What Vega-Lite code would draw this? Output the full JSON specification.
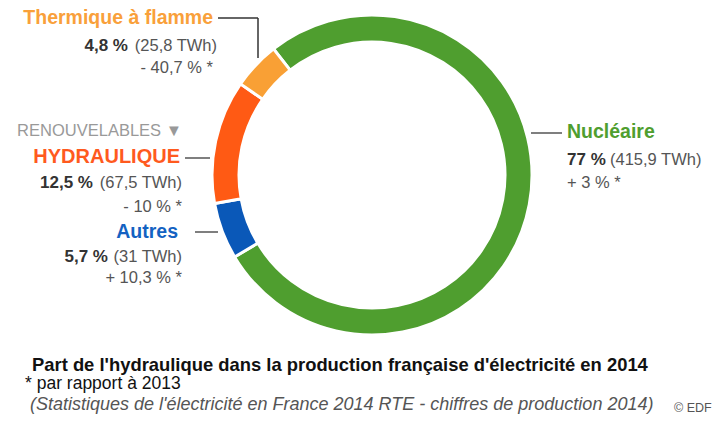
{
  "$schema": "https://vega.github.io/schema/vega-lite/v6.json",
  "width": 320,
  "height": 320,
  "autosize": {"type": "none"},
  "padding": {"left": 212, "top": 15, "right": 189, "bottom": 86},
  "background": "white",
  "config": {"view": {"stroke": null}, "text": {"font": "Liberation Sans"}},
  "datasets": {
    "parts": [
      {"categorie": "Nucléaire", "part": 77, "twh": 415.9, "evolution": 3, "rang": 1},
      {"categorie": "Autres", "part": 5.7, "twh": 31, "evolution": 10.3, "rang": 2},
      {"categorie": "Hydraulique", "part": 12.5, "twh": 67.5, "evolution": -10, "rang": 3},
      {"categorie": "Thermique à flamme", "part": 4.8, "twh": 25.8, "evolution": -40.7, "rang": 4}
    ],
    "one": [{"k": 1}]
  },
  "layer": [
    {
      "data": {"name": "parts"},
      "mark": {"type": "arc", "radius": 160, "radius2": 133, "stroke": "white", "strokeWidth": 3},
      "encoding": {
        "theta": {"field": "part", "type": "quantitative", "stack": true, "scale": {"range": [-0.6632, 5.6200]}},
        "order": {"field": "rang", "type": "quantitative"},
        "color": {"field": "categorie", "type": "nominal", "legend": null,
          "scale": {"domain": ["Nucléaire", "Autres", "Hydraulique", "Thermique à flamme"],
                    "range": ["#4f9e2f", "#0a58b8", "#ff5a14", "#f9a035"]}}
      }
    },
    {"data": {"name": "one"}, "mark": {"type": "rule", "stroke": "#333", "strokeWidth": 1.5}, "encoding": {"x": {"value": 6}, "x2": {"value": 46}, "y": {"value": 3}, "y2": {"value": 3}}},
    {"data": {"name": "one"}, "mark": {"type": "rule", "stroke": "#333", "strokeWidth": 1.5}, "encoding": {"x": {"value": 46}, "x2": {"value": 46}, "y": {"value": 3}, "y2": {"value": 43}}},
    {"data": {"name": "one"}, "mark": {"type": "rule", "stroke": "#555", "strokeWidth": 1.5}, "encoding": {"x": {"value": -27}, "x2": {"value": -2}, "y": {"value": 143}, "y2": {"value": 143}}},
    {"data": {"name": "one"}, "mark": {"type": "rule", "stroke": "#555", "strokeWidth": 1.5}, "encoding": {"x": {"value": -17}, "x2": {"value": 6}, "y": {"value": 217}, "y2": {"value": 217}}},
    {"data": {"name": "one"}, "mark": {"type": "rule", "stroke": "#555", "strokeWidth": 1.5}, "encoding": {"x": {"value": 319}, "x2": {"value": 350}, "y": {"value": 118}, "y2": {"value": 118}}},

    {"data": {"name": "one"}, "mark": {"type": "text", "text": "Thermique à flamme", "x": 1, "y": 9, "align": "right", "baseline": "alphabetic", "fontSize": 19.5, "fontWeight": "bold", "color": "#f9a03a"}},
    {"data": {"name": "one"}, "mark": {"type": "text", "text": "4,8 %", "x": -84, "y": 36, "align": "right", "baseline": "alphabetic", "fontSize": 17, "fontWeight": "bold", "color": "#333"}},
    {"data": {"name": "one"}, "mark": {"type": "text", "text": "(25,8 TWh)", "x": 5, "y": 36, "align": "right", "baseline": "alphabetic", "fontSize": 16.5, "color": "#555"}},
    {"data": {"name": "one"}, "mark": {"type": "text", "text": "- 40,7 % *", "x": 1, "y": 58, "align": "right", "baseline": "alphabetic", "fontSize": 16.5, "color": "#555"}},

    {"data": {"name": "one"}, "mark": {"type": "text", "text": "RENOUVELABLES ▼", "x": -30, "y": 121, "align": "right", "baseline": "alphabetic", "fontSize": 16.5, "color": "#999"}},
    {"data": {"name": "one"}, "mark": {"type": "text", "text": "HYDRAULIQUE", "x": -32, "y": 148, "align": "right", "baseline": "alphabetic", "fontSize": 20, "fontWeight": "bold", "color": "#ff5a1e"}},
    {"data": {"name": "one"}, "mark": {"type": "text", "text": "12,5 %", "x": -119, "y": 173, "align": "right", "baseline": "alphabetic", "fontSize": 17, "fontWeight": "bold", "color": "#333"}},
    {"data": {"name": "one"}, "mark": {"type": "text", "text": "(67,5 TWh)", "x": -30, "y": 173, "align": "right", "baseline": "alphabetic", "fontSize": 16.5, "color": "#555"}},
    {"data": {"name": "one"}, "mark": {"type": "text", "text": "- 10 % *", "x": -30, "y": 197, "align": "right", "baseline": "alphabetic", "fontSize": 16.5, "color": "#555"}},

    {"data": {"name": "one"}, "mark": {"type": "text", "text": "Autres", "x": -34, "y": 223, "align": "right", "baseline": "alphabetic", "fontSize": 19.5, "fontWeight": "bold", "color": "#1462c2"}},
    {"data": {"name": "one"}, "mark": {"type": "text", "text": "5,7 %", "x": -104, "y": 247, "align": "right", "baseline": "alphabetic", "fontSize": 17, "fontWeight": "bold", "color": "#333"}},
    {"data": {"name": "one"}, "mark": {"type": "text", "text": "(31 TWh)", "x": -30, "y": 247, "align": "right", "baseline": "alphabetic", "fontSize": 16.5, "color": "#555"}},
    {"data": {"name": "one"}, "mark": {"type": "text", "text": "+ 10,3 % *", "x": -30, "y": 268, "align": "right", "baseline": "alphabetic", "fontSize": 16.5, "color": "#555"}},

    {"data": {"name": "one"}, "mark": {"type": "text", "text": "Nucléaire", "x": 355, "y": 123, "align": "left", "baseline": "alphabetic", "fontSize": 19.5, "fontWeight": "bold", "color": "#4f9e2f"}},
    {"data": {"name": "one"}, "mark": {"type": "text", "text": "77 %", "x": 355, "y": 150, "align": "left", "baseline": "alphabetic", "fontSize": 17, "fontWeight": "bold", "color": "#333"}},
    {"data": {"name": "one"}, "mark": {"type": "text", "text": "(415,9 TWh)", "x": 398, "y": 150, "align": "left", "baseline": "alphabetic", "fontSize": 16.5, "color": "#555"}},
    {"data": {"name": "one"}, "mark": {"type": "text", "text": "+ 3 % *", "x": 355, "y": 173, "align": "left", "baseline": "alphabetic", "fontSize": 16.5, "color": "#555"}},

    {"data": {"name": "one"}, "mark": {"type": "text", "text": "Part de l'hydraulique dans la production française d'électricité en 2014", "x": -180, "y": 356, "align": "left", "baseline": "alphabetic", "fontSize": 18.4, "fontWeight": "bold", "color": "#111"}},
    {"data": {"name": "one"}, "mark": {"type": "text", "text": "* par rapport à 2013", "x": -187, "y": 374, "align": "left", "baseline": "alphabetic", "fontSize": 17.5, "color": "#111"}},
    {"data": {"name": "one"}, "mark": {"type": "text", "text": "(Statistiques de l'électricité en France 2014 RTE - chiffres de production 2014)", "x": -182, "y": 395, "align": "left", "baseline": "alphabetic", "fontSize": 18, "fontStyle": "italic", "color": "#555"}},
    {"data": {"name": "one"}, "mark": {"type": "text", "text": "© EDF", "x": 462, "y": 397, "align": "left", "baseline": "alphabetic", "fontSize": 12.5, "color": "#555"}}
  ]
}
